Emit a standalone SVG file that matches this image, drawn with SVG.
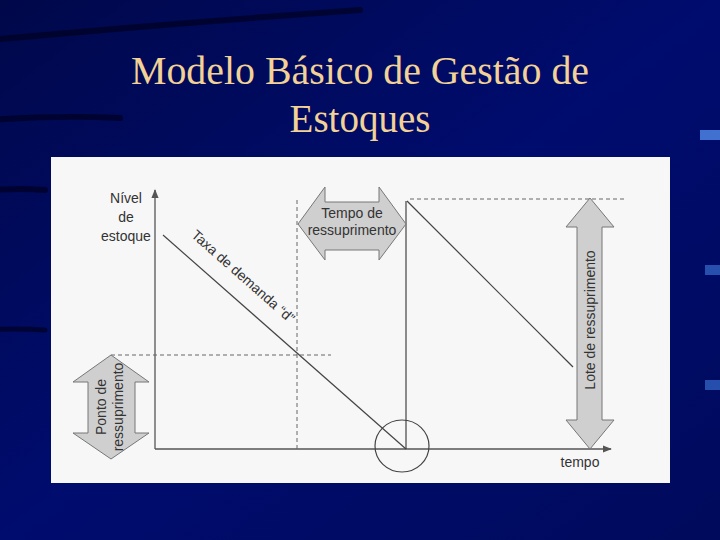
<svg xmlns="http://www.w3.org/2000/svg" width="720" height="540" viewBox="0 0 720 540">
<defs>
<linearGradient id="bg" x1="0" y1="0" x2="1" y2="1"><stop offset="0" stop-color="#00084a"/><stop offset="0.5" stop-color="#000c6e"/><stop offset="1" stop-color="#000a5c"/></linearGradient>
<marker id="ah" viewBox="0 0 10 10" refX="9" refY="5" markerWidth="7" markerHeight="7" orient="auto"><path d="M0,1 L10,5 L0,9 z" fill="#555"/></marker>
</defs>
<style>
.ax{stroke:#555;stroke-width:1.3;fill:none}
.ln{stroke:#444;stroke-width:1.2;fill:none}
.ds{stroke:#666;stroke-width:1;stroke-dasharray:4,3;fill:none}
.arr{fill:#cfcfcf;stroke:#777;stroke-width:1}
.t{font-family:"Liberation Sans Narrow","Liberation Sans",Arial,sans-serif;font-size:14px;fill:#333;text-anchor:middle}
.title{font-family:"Liberation Serif","Times New Roman",serif;font-size:39px;fill:#f2d296;text-anchor:middle}
</style>
<rect width="720" height="540" fill="url(#bg)"/>
<g fill="none" stroke="#000018" stroke-linecap="round" opacity="0.6">
<path d="M-10,40 Q150,25 360,10" stroke-width="6"/>
<path d="M-10,120 Q60,115 120,118" stroke-width="6"/>
<path d="M-10,190 Q20,188 45,190" stroke-width="6"/>
<path d="M-10,330 Q15,328 45,330" stroke-width="5"/>
</g>
<rect x="700" y="130" width="20" height="10" fill="#4070d0"/>
<rect x="705" y="265" width="15" height="10" fill="#3060c0" opacity="0.8"/>
<rect x="705" y="380" width="15" height="10" fill="#3060c0" opacity="0.8"/>
<g id="title">
<text class="title" x="360" y="84" textLength="458" lengthAdjust="spacingAndGlyphs">Modelo Básico de Gestão de</text>
<text class="title" x="360" y="132">Estoques</text>
</g>
<rect x="51" y="157" width="619" height="326" fill="#f7f7f7"/>
<g id="connectors">
<line class="ax" x1="155" y1="449" x2="155" y2="190" marker-end="url(#ah)"/>
<line class="ax" x1="155" y1="449" x2="611" y2="449" marker-end="url(#ah)"/>
<line class="ln" x1="163" y1="235" x2="406" y2="449"/>
<line class="ln" x1="406" y1="449" x2="406" y2="201"/>
<line class="ln" x1="407" y1="201" x2="573" y2="367"/>
<line class="ds" x1="410" y1="199" x2="625" y2="199"/>
<line class="ds" x1="111" y1="355" x2="331" y2="355"/>
<line class="ds" x1="297" y1="200" x2="297" y2="449"/>
<ellipse class="ln" cx="402" cy="446" rx="27" ry="26"/>
</g>
<g id="tempo-ressuprimento">
<path class="arr" d="M298,224 L325,187 L325,202 L379,202 L379,187 L406,224 L379,260 L379,250 L325,250 L325,260 Z"/>
<text class="t" x="352" y="218">Tempo de</text>
<text class="t" x="352" y="235">ressuprimento</text>
</g>
<g id="ponto-ressuprimento">
<path class="arr" d="M111,355 L149,382 L135,382 L135,433 L149,433 L111,459 L73,433 L88,433 L88,382 L73,382 Z"/>
<text class="t" transform="translate(106,407) rotate(-90)">Ponto de</text>
<text class="t" transform="translate(123,407) rotate(-90)">ressuprimento</text>
</g>
<g id="lote-ressuprimento">
<path class="arr" d="M590,198 L614,227 L602,227 L602,420 L614,420 L590,449 L566,420 L577,420 L577,227 L566,227 Z"/>
<text class="t" transform="translate(595,320) rotate(-90)">Lote de ressuprimento</text>
</g>
<g id="labels">
<text class="t" x="126" y="203">Nível</text>
<text class="t" x="126" y="222">de</text>
<text class="t" x="126" y="241">estoque</text>
<text class="t" transform="translate(240,280) rotate(41.4)">Taxa de demanda “d”</text>
<text class="t" x="580" y="467">tempo</text>
</g>
</svg>
